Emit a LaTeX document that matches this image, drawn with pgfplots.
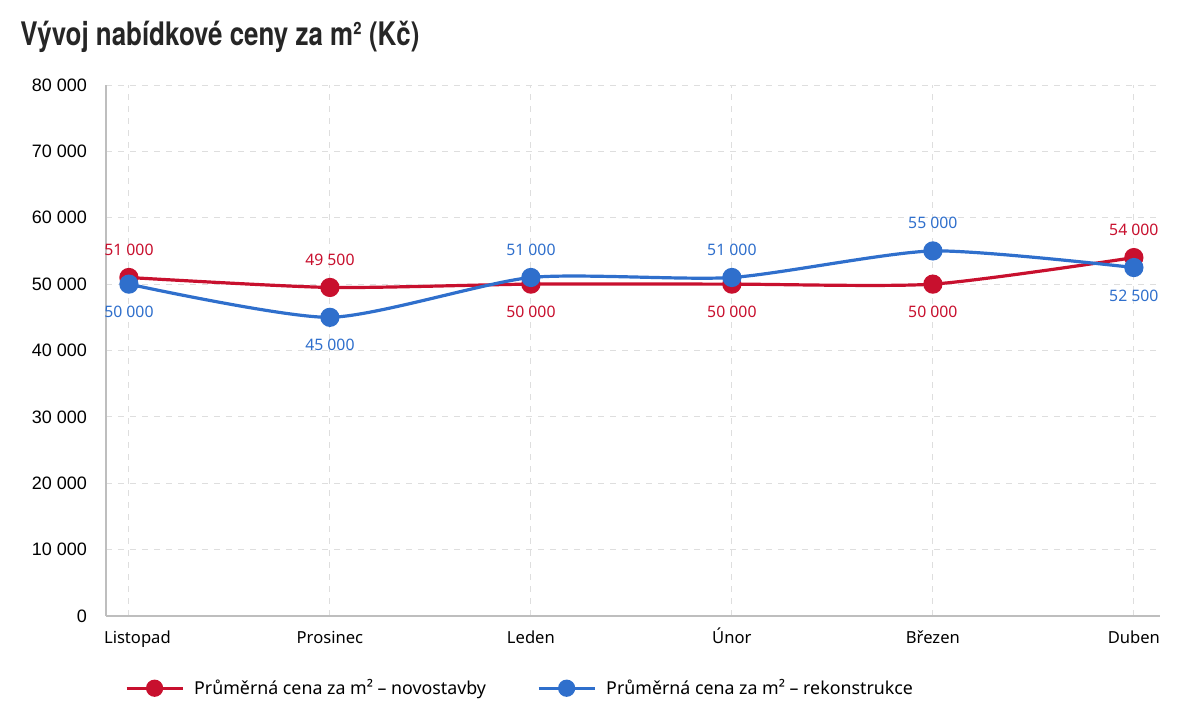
\documentclass[border=0pt]{standalone}
\usepackage{fontspec}
\setmainfont{Noto Sans}
\newfontfamily\titlefont[FakeStretch=0.80]{TeX Gyre Heros}
\newfontfamily\tickfont{Liberation Sans}
\usepackage{pgfplots}
\pgfplotsset{compat=1.18}

\definecolor{novo}{RGB}{200,16,46}
\definecolor{reko}{RGB}{47,111,204}
\definecolor{gridc}{RGB}{222,222,222}
\definecolor{axc}{RGB}{190,190,190}

% price per m2; dir = side of the value label (1 above, -1 below)
\pgfplotstableread{
x novo ndir reko rdir
0 51000 1 50000 -1
1 49500 1 45000 -1
2 50000 -1 51000 1
3 50000 -1 51000 1
4 50000 -1 55000 1
5 54000 1 52500 -1
}\cenytab

\begin{document}
\begin{tikzpicture}
\path[use as bounding box] (0,0) rectangle (600pt,361pt);
\node[anchor=base west, inner sep=0pt, font=\titlefont\bfseries\fontsize{16.2}{19}\selectfont, text=black!85]
  at (10pt,338pt) {Vývoj nabídkové ceny za m² (Kč)};
\begin{axis}[
  at={(53pt,53pt)}, anchor=south west,
  scale only axis, width=527pt, height=265.5pt,
  xmin=-0.114, xmax=5.13, ymin=0, ymax=80000,
  axis x line*=bottom, axis y line*=left,
  axis line style={axc, line width=0.8pt, -},
  xtick=data,
  xticklabels={\hspace*{8.5pt}Listopad, Prosinec, Leden, Únor, Březen, Duben},
  ytick={0,10000,...,80000},
  scaled y ticks=false,
  major tick length=0pt,
  grid=major,
  major grid style={gridc, dashed, line width=0.5pt},
  /pgf/number format/.cd, assume math mode=true, 1000 sep={\ },
  /pgfplots/.cd,
  yticklabel style={font=\tickfont\fontsize{9}{10}\selectfont, xshift=-6pt},
  xticklabel style={font=\fontsize{8.3}{10}\selectfont, anchor=base, yshift=-14pt},
  every node near coord/.append style={font=\fontsize{7.9}{10}\selectfont},
  legend columns=2,
  legend style={at={(0.3937,-0.136)}, anchor=center, draw=none, fill=none,
    font=\fontsize{8.9}{11}\selectfont,
    /tikz/every even column/.append style={column sep=23.5pt}},
  legend image code/.code={\draw[mark repeat=2,mark phase=2,#1,mark size=3.5pt]
    plot coordinates {(0pt,0pt) (14pt,0pt) (28pt,0pt)};
    \path (31pt,0pt);},
]
\addplot[novo, line width=1.6pt, smooth, tension=0.4, mark=*, mark size=4pt,
  mark options={solid, fill=novo, draw=novo},
  visualization depends on={\thisrow{ndir} \as \ldir},
  nodes near coords, nodes near coords style={text=novo, anchor=center, yshift=\ldir*14pt}]
  table[x=x, y=novo] {\cenytab};
\addlegendentry{Průměrná cena za m² – novostavby}
\addplot[reko, line width=1.6pt, smooth, tension=0.4, mark=*, mark size=4pt,
  mark options={solid, fill=reko, draw=reko},
  visualization depends on={\thisrow{rdir} \as \ldir},
  nodes near coords, nodes near coords style={text=reko, anchor=center, yshift=\ldir*14pt}]
  table[x=x, y=reko] {\cenytab};
\addlegendentry{Průměrná cena za m² – rekonstrukce}
\end{axis}
\end{tikzpicture}
\end{document}
